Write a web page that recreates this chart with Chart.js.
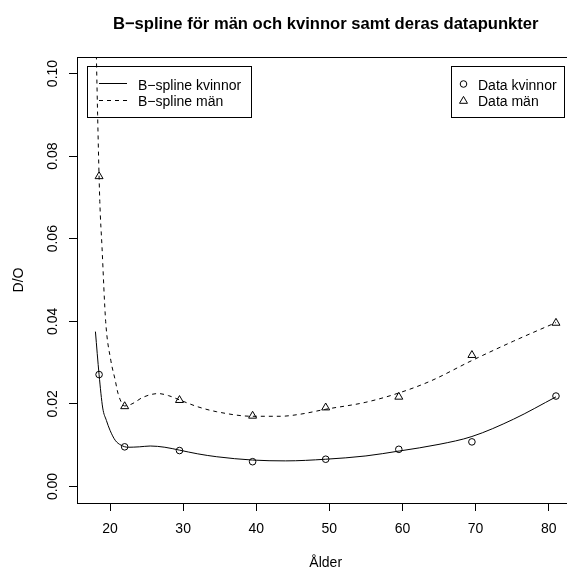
<!DOCTYPE html>
<html>
<head>
<meta charset="utf-8">
<script src="https://cdn.jsdelivr.net/npm/chart.js@4.4.0/dist/chart.umd.min.js"></script>
<style>
html, body { margin: 0; padding: 0; background: #fff; overflow: hidden; }
canvas { display: block; }
</style>
</head>
<body>
<canvas id="bspline" width="580" height="570"></canvas>
<script>
// datapunkter: ålder och D/O
var ages = [18.5, 22, 29.5, 39.5, 49.5, 59.5, 69.5, 81];
var dataKvinnor = [0.0271, 0.0096, 0.0087, 0.0060, 0.0066, 0.0090, 0.0108, 0.0219];
var dataMan = [0.0751, 0.0194, 0.0209, 0.0171, 0.0191, 0.0217, 0.0318, 0.0396];

// punkter avlästa längs B-spline-kurvorna
var splineKvinnorX = [18.0, 18.5, 19.0, 19.5, 20.0, 20.7, 21.5, 22.5, 24, 25.5, 27.5, 29.5, 32, 34.6, 39.5, 44, 49.5, 55, 59.6, 65, 69.5, 75.2, 81];
var splineKvinnorY = [0.0375, 0.0271, 0.0190, 0.0160, 0.0136, 0.0112, 0.0100, 0.0095, 0.0096, 0.0098, 0.0095, 0.0088, 0.0079, 0.0072, 0.0064, 0.0062, 0.0066, 0.0074, 0.0086, 0.0102, 0.0121, 0.0163, 0.0217];
var splineManX = [18.0, 18.3, 18.6, 18.9, 19.4, 20.1, 20.7, 21.1, 22, 23, 24.5, 26.6, 28, 29.6, 32, 34.6, 39.5, 43.3, 46, 49.5, 55, 59.6, 63.8, 69.5, 75.2, 81];
var splineManY = [0.116, 0.090, 0.069, 0.058, 0.040, 0.0306, 0.0258, 0.0225, 0.0195, 0.0200, 0.0216, 0.0225, 0.0220, 0.0209, 0.0193, 0.0181, 0.0170, 0.0170, 0.0175, 0.0187, 0.0204, 0.0227, 0.0255, 0.0305, 0.0352, 0.0397];

var xTicks = [20, 30, 40, 50, 60, 70, 80];
var yTicks = [0, 0.02, 0.04, 0.06, 0.08, 0.10];
var yTickLabels = ['0.00', '0.02', '0.04', '0.06', '0.08', '0.10'];

var FONT = '"Liberation Sans", Arial, Helvetica, sans-serif';

function toXY(xs, ys) {
    var out = [];
    for (var i = 0; i < xs.length; i++) out.push({x: xs[i], y: ys[i]});
    return out;
}

var rDecorations = {
    id: 'rDecorations',
    afterDraw: function (chart) {
        var ctx = chart.ctx;
        var a = chart.chartArea;
        var ys = chart.scales.y;
        ctx.save();
        ctx.strokeStyle = '#000';
        ctx.fillStyle = '#000';
        ctx.lineWidth = 1;

        // plot box
        ctx.strokeRect(a.left + 0.5, a.top + 0.5, a.right - a.left, a.bottom - a.top);

        // y tick labels, rotated like R
        ctx.font = '14px ' + FONT;
        ctx.textAlign = 'center';
        ctx.textBaseline = 'alphabetic';
        for (var i = 0; i < yTicks.length; i++) {
            ctx.save();
            ctx.translate(57, ys.getPixelForValue(yTicks[i]));
            ctx.rotate(-Math.PI / 2);
            ctx.fillText(yTickLabels[i], 0, 0);
            ctx.restore();
        }

        // axis titles
        ctx.save();
        ctx.translate(22.5, 280);
        ctx.rotate(-Math.PI / 2);
        ctx.fillText('D/O', 0, 0);
        ctx.restore();
        ctx.fillText('Ålder', (a.left + a.right) / 2, 567);

        // title
        ctx.font = 'bold 16.6px ' + FONT;
        ctx.fillText('B\u2212spline för män och kvinnor samt deras datapunkter', (a.left + a.right) / 2, 28.5);

        // left legend
        ctx.font = '14px ' + FONT;
        ctx.textAlign = 'left';
        ctx.strokeRect(87.5, 66.5, 164, 51);
        ctx.beginPath();
        ctx.moveTo(99, 83.5);
        ctx.lineTo(127, 83.5);
        ctx.stroke();
        ctx.setLineDash([4, 4]);
        ctx.beginPath();
        ctx.moveTo(99, 100.5);
        ctx.lineTo(127, 100.5);
        ctx.stroke();
        ctx.setLineDash([]);
        ctx.fillText('B\u2212spline kvinnor', 138, 89.5);
        ctx.fillText('B\u2212spline män', 138, 106.3);

        // right legend
        ctx.strokeRect(451.5, 66.5, 113, 51);
        ctx.fillStyle = 'rgba(0,0,0,0)';
        Chart.helpers.drawPoint(ctx, {pointStyle: 'circle', radius: 3.3, rotation: 0, borderWidth: 1}, 463.5, 84);
        Chart.helpers.drawPoint(ctx, {pointStyle: 'triangle', radius: 4.6, rotation: 0, borderWidth: 1}, 463.5, 101);
        ctx.fillStyle = '#000';
        ctx.fillText('Data kvinnor', 478, 89.5);
        ctx.fillText('Data män', 478, 106.3);
        ctx.restore();
    }
};

Chart.defaults.font.family = FONT;
Chart.defaults.color = '#000';

new Chart(document.getElementById('bspline'), {
    type: 'scatter',
    data: {
        datasets: [
            {
                label: 'B-spline kvinnor',
                data: toXY(splineKvinnorX, splineKvinnorY),
                showLine: true,
                borderColor: '#000',
                borderWidth: 1,
                pointRadius: 0,
                cubicInterpolationMode: 'monotone'
            },
            {
                label: 'B-spline män',
                data: toXY(splineManX, splineManY),
                showLine: true,
                borderColor: '#000',
                borderWidth: 1,
                borderDash: [4, 4],
                pointRadius: 0,
                cubicInterpolationMode: 'monotone'
            },
            {
                label: 'Data kvinnor',
                data: toXY(ages, dataKvinnor),
                pointStyle: 'circle',
                pointRadius: 3.3,
                borderColor: '#000',
                backgroundColor: 'rgba(0,0,0,0)',
                borderWidth: 1
            },
            {
                label: 'Data män',
                data: toXY(ages, dataMan),
                pointStyle: 'triangle',
                pointRadius: 4.6,
                borderColor: '#000',
                backgroundColor: 'rgba(0,0,0,0)',
                borderWidth: 1
            }
        ]
    },
    options: {
        responsive: false,
        animation: false,
        devicePixelRatio: 1,
        layout: { padding: { top: 57, left: 0, right: 5, bottom: 0 } },
        plugins: { legend: { display: false }, tooltip: { enabled: false } },
        scales: {
            x: {
                type: 'linear',
                min: 15.48,
                max: 83.52,
                afterFit: function (s) { s.height = 67; },
                afterBuildTicks: function (s) { s.ticks = xTicks.map(function (v) { return {value: v}; }); },
                grid: { drawOnChartArea: false, color: '#000', tickLength: 8, tickWidth: 1 },
                border: { display: false },
                ticks: { font: { size: 14 }, padding: 10, maxRotation: 0, includeBounds: false }
            },
            y: {
                type: 'linear',
                min: -0.004,
                max: 0.104,
                afterFit: function (s) { s.width = 77; },
                afterBuildTicks: function (s) { s.ticks = yTicks.map(function (v) { return {value: v}; }); },
                grid: { drawOnChartArea: false, color: '#000', tickLength: 8, tickWidth: 1 },
                border: { display: false },
                ticks: { display: false }
            }
        }
    },
    plugins: [rDecorations]
});
</script>
</body>
</html>
